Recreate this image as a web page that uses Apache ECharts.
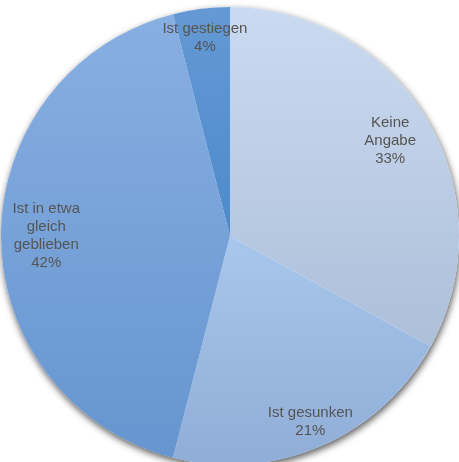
<!DOCTYPE html>
<html>
<head>
<meta charset="utf-8">
<script src="https://cdn.jsdelivr.net/npm/echarts@6/dist/echarts.min.js"></script>
<style>
  html, body { margin: 0; padding: 0; background: #ffffff; }
  #chart { width: 459px; height: 462px; }
</style>
</head>
<body>
<div id="chart"></div>
<script>
// Survey answers and their shares (percent)
const categories = ['Keine\nAngabe', 'Ist gesunken', 'Ist in etwa\ngleich\ngeblieben', 'Ist gestiegen'];
const shares = [33, 21, 42, 4];

// Top and bottom tones of each slice's vertical gradient
const topColors = ['#cadaf0', '#a9c6ec', '#88afe2', '#6499d4'];
const bottomColors = ['#adbfd9', '#8fadd6', '#6695cf', '#4e8acb'];

const center = [230, 236];
const outer = 229;
const ringMid = 0.83;                       // label ring sits at this fraction of the radius
const labelReach = [0.80, 0.87, 0.79, 0.86]; // per-slice radial placement of the labels

const sliceData = categories.map((name, i) => ({
  name: name,
  value: shares[i],
  itemStyle: {
    color: new echarts.graphic.LinearGradient(0, 0, 0, 1, [
      { offset: 0, color: topColors[i] },
      { offset: 1, color: bottomColors[i] }
    ])
  }
}));

const labelData = categories.map((name, i) => ({ name: name, value: shares[i] }));

const chart = echarts.init(document.getElementById('chart'), null, { renderer: 'canvas' });
chart.setOption({
  animation: false,
  backgroundColor: '#ffffff',
  series: [
    {
      // soft drop shadow under the whole disc
      type: 'pie',
      silent: true,
      center: center,
      radius: [0, outer],
      z: 1,
      label: { show: false },
      labelLine: { show: false },
      data: [{ value: 1, name: '' }],
      itemStyle: {
        color: '#ffffff',
        shadowBlur: 7,
        shadowColor: 'rgba(0,0,0,0.65)',
        shadowOffsetX: 1,
        shadowOffsetY: 3
      }
    },
    {
      type: 'pie',
      silent: true,
      center: center,
      radius: [0, outer],
      startAngle: 90,
      clockwise: true,
      z: 2,
      label: { show: false },
      labelLine: { show: false },
      itemStyle: { borderWidth: 0 },
      data: sliceData
    },
    {
      // transparent label ring, nudged radially per slice
      type: 'pie',
      silent: true,
      center: center,
      radius: [outer * (2 * ringMid - 1), outer],
      startAngle: 90,
      clockwise: true,
      z: 3,
      itemStyle: { color: 'rgba(0,0,0,0)' },
      labelLine: { show: false },
      label: {
        show: true,
        position: 'inside',
        formatter: p => p.name + '\n' + p.value + '%',
        color: '#555555',
        fontFamily: 'Liberation Sans, Arial, sans-serif',
        fontSize: 15,
        lineHeight: 18,
        align: 'center'
      },
      labelLayout: function (params) {
        const r = params.labelRect;
        const cx = r.x + r.width / 2 - center[0];
        const cy = r.y + r.height / 2 - center[1];
        const k = labelReach[params.dataIndex] / ringMid - 1;
        return { dx: cx * k, dy: cy * k };
      },
      data: labelData
    }
  ]
});
</script>
</body>
</html>
